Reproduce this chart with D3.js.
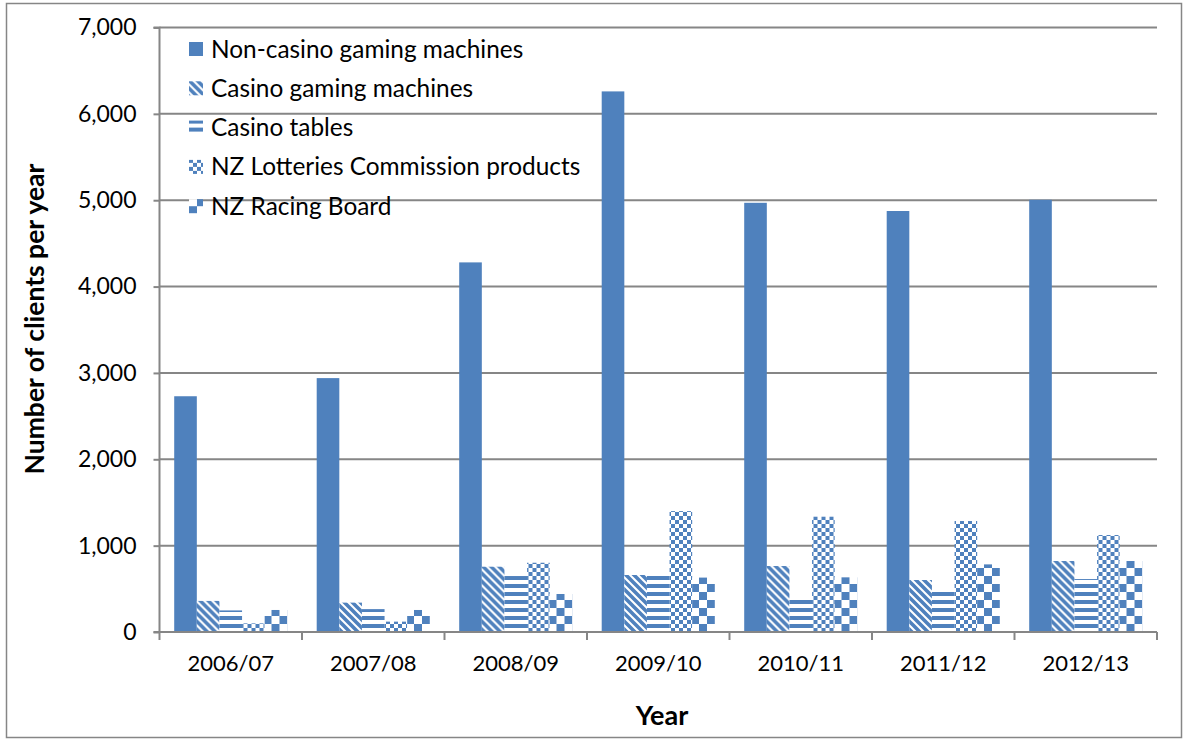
<!DOCTYPE html>
<html>
<head>
<meta charset="utf-8">
<script src="https://cdn.jsdelivr.net/npm/d3@7/dist/d3.min.js"></script>
<style>
  html, body { margin: 0; padding: 0; background: #fff; }
  svg { display: block; }
  text { font-family: Lato, "Open Sans", sans-serif; fill: #000; }
</style>
</head>
<body>
<svg id="chart" width="1184" height="740"></svg>
<script>
// Problem gambling clients by primary gambling mode
const years = ["2006/07", "2007/08", "2008/09", "2009/10", "2010/11", "2011/12", "2012/13"];
const seriesNames = [
  "Non-casino gaming machines",
  "Casino gaming machines",
  "Casino tables",
  "NZ Lotteries Commission products",
  "NZ Racing Board"
];
const nonCasino   = [2730, 2940, 4280, 6260, 4970, 4875, 5005];
const casinoGM    = [360, 340, 756, 660, 764, 602, 822];
const casinoTab   = [250, 265, 648, 650, 397, 506, 613];
const lotteries   = [100, 120, 802, 1400, 1335, 1285, 1123];
const racing      = [255, 255, 440, 630, 633, 783, 822];
const yTicks      = [0, 1000, 2000, 3000, 4000, 5000, 6000, 7000];

const seriesValues = [nonCasino, casinoGM, casinoTab, lotteries, racing];
const blue = "#4F81BD";
const grid = "#868686";

const svg = d3.select("#chart");
const defs = svg.append("defs");

// Fill patterns for each series
function makePattern(id, size, draw) {
  const p = defs.append("pattern")
    .attr("id", id)
    .attr("patternUnits", "userSpaceOnUse")
    .attr("width", size).attr("height", size);
  p.append("rect").attr("width", size).attr("height", size).attr("fill", "#fff");
  draw(p);
}
// wide downward diagonal
makePattern("pDiag", 8, p => {
  p.append("path")
    .attr("d", "M-2,-2 L10,10 M-6,2 L2,10 M6,-2 L14,6")
    .attr("stroke", blue).attr("stroke-width", 3.6).attr("fill", "none");
});
// wide horizontal lines
makePattern("pHorz", 8, p => {
  p.append("rect").attr("x", 0).attr("y", 0).attr("width", 8).attr("height", 4).attr("fill", blue);
});
// small checkerboard
makePattern("pSmCheck", 8, p => {
  p.append("rect").attr("x", 0).attr("y", 0).attr("width", 4).attr("height", 4).attr("fill", blue);
  p.append("rect").attr("x", 4).attr("y", 4).attr("width", 4).attr("height", 4).attr("fill", blue);
});
// large checkerboard
makePattern("pLgCheck", 16, p => {
  p.append("rect").attr("x", 0).attr("y", 0).attr("width", 8).attr("height", 8).attr("fill", blue);
  p.append("rect").attr("x", 8).attr("y", 8).attr("width", 8).attr("height", 8).attr("fill", blue);
});
const fills = [blue, "url(#pDiag)", "url(#pHorz)", "url(#pSmCheck)", "url(#pLgCheck)"];

// Outer frame
svg.append("rect")
  .attr("x", 6.5).attr("y", 3.5).attr("width", 1175).attr("height", 734)
  .attr("fill", "#fff").attr("stroke", grid).attr("stroke-width", 1.5);

// Scales
const plotLeft = 159.5, plotRight = 1157, yBase = 632, yTop = 27.5;
const x0 = d3.scaleBand().domain(years).range([plotLeft, plotRight]).padding(0);
const x1 = d3.scaleBand().domain(d3.range(seriesNames.length))
  .range([0, x0.bandwidth()]).paddingInner(0).paddingOuter(0.65);
const y = d3.scaleLinear().domain([0, 7000]).range([yBase, yTop]);

// Horizontal gridlines
svg.append("g")
  .selectAll("line")
  .data(yTicks.filter(d => d > 0))
  .join("line")
  .attr("x1", plotLeft).attr("x2", plotRight)
  .attr("y1", d => y(d)).attr("y2", d => y(d))
  .attr("stroke", grid).attr("stroke-width", 2);

// Bars
const groups = svg.append("g")
  .selectAll("g")
  .data(years)
  .join("g")
  .attr("transform", d => `translate(${x0(d)},0)`);

groups.selectAll("rect")
  .data((yr, i) => seriesValues.map((vals, s) => ({ s, v: vals[i] })))
  .join("rect")
  .attr("x", d => x1(d.s))
  .attr("width", x1.bandwidth())
  .attr("y", d => y(d.v))
  .attr("height", d => yBase - y(d.v))
  .attr("fill", d => fills[d.s]);

// Y axis
const yAxis = d3.axisLeft(y)
  .tickValues(yTicks)
  .tickSize(6)
  .tickPadding(17)
  .tickFormat(d3.format(","));
const gy = svg.append("g").attr("transform", `translate(${plotLeft},0)`).call(yAxis);
gy.select(".domain").attr("stroke", grid).attr("stroke-width", 2).attr("d", `M-6,${yTop}H0V${yBase}`);
gy.selectAll(".tick line").attr("stroke", grid).attr("stroke-width", 2);
gy.selectAll(".tick text").style("font-size", "23px").attr("fill", "#000");

// X axis: baseline and category separators
const gx = svg.append("g");
gx.append("line")
  .attr("x1", plotLeft - 6).attr("x2", plotRight)
  .attr("y1", yBase).attr("y2", yBase)
  .attr("stroke", grid).attr("stroke-width", 2);
gx.selectAll("line.sep")
  .data(years.map(d => x0(d)).concat([plotRight]))
  .join("line")
  .attr("class", "sep")
  .attr("x1", d => d).attr("x2", d => d)
  .attr("y1", yBase).attr("y2", yBase + 8)
  .attr("stroke", grid).attr("stroke-width", 2);
gx.selectAll("text")
  .data(years)
  .join("text")
  .attr("x", d => x0(d) + x0.bandwidth() / 2)
  .attr("y", 671)
  .attr("text-anchor", "middle")
  .style("font-size", "22px")
  .text(d => d);

// Axis titles
svg.append("text")
  .attr("x", 662).attr("y", 725)
  .attr("text-anchor", "middle")
  .style("font-size", "27px").style("font-weight", "bold")
  .text("Year");
svg.append("text")
  .attr("transform", "translate(44,319) rotate(-90)")
  .attr("text-anchor", "middle")
  .style("font-size", "26.5px").style("font-weight", "bold")
  .text("Number of clients per year");

// Legend
const legend = svg.append("g").attr("transform", "translate(189,49)");
const items = legend.selectAll("g")
  .data(seriesNames)
  .join("g")
  .attr("transform", (d, i) => `translate(0,${i * 39.3})`);
items.append("rect")
  .attr("x", 0).attr("y", -7).attr("width", 14).attr("height", 14)
  .attr("fill", (d, i) => fills[i]);
items.append("text")
  .attr("x", 22).attr("y", 0)
  .attr("dy", "0.35em")
  .style("font-size", "24.4px")
  .text(d => d);
</script>
</body>
</html>
